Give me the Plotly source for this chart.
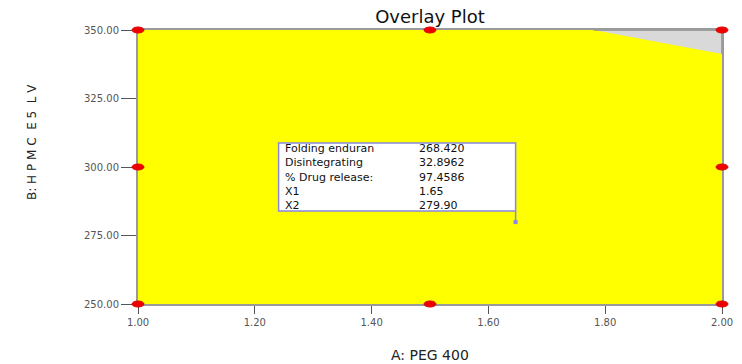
import plotly.graph_objects as go

# Design space axes
x_ticks = [1.00, 1.20, 1.40, 1.60, 1.80, 2.00]
y_ticks = [250.00, 275.00, 300.00, 325.00, 350.00]

# Design points (red markers)
design_a = [1.0, 1.0, 1.0, 1.5, 1.5, 2.0, 2.0, 2.0]
design_b = [250, 300, 350, 250, 350, 250, 300, 350]

# Region failing the criteria (grey, upper right corner)
fail_a = [1.78, 2.00, 2.00]
fail_b = [350.0, 350.0, 341.2]

# Flagged optimum
flag_a = 1.65
flag_b = 279.90
flag_labels = ["Folding enduran", "Disintegrating", "% Drug release:", "X1", "X2"]
flag_values = ["268.420", "32.8962", "97.4586", "1.65", "279.90"]

FONT = "DejaVu Sans, Arial, sans-serif"

# Plot-area geometry (px); the main axes sit PAD px inside a helper
# subplot so that markers on the border are not clipped.
W, H = 742, 364
L, R, T, B = 130, 12, 22, 52
PAD = 8
pw, ph = W - L - R, H - T - B
xa, xb = x_ticks[0], x_ticks[-1]
ya, yb = y_ticks[0], y_ticks[-1]
xpad = (xb - xa) * PAD / (pw - 2 * PAD)
ypad = (yb - ya) * PAD / (ph - 2 * PAD)

fig = go.Figure()

# Yellow feasible region covering the whole design space
fig.add_trace(go.Scatter(
    x=[xa, xb, xb, xa], y=[ya, ya, yb, yb],
    fill="toself", fillcolor="#ffff00", mode="lines",
    line=dict(width=0), hoverinfo="skip", showlegend=False))

fig.add_trace(go.Scatter(
    x=fail_a, y=fail_b, fill="toself", fillcolor="#d9d9d9", mode="lines",
    line=dict(color="#6a6a6a", width=1), hoverinfo="skip", showlegend=False))

shapes = []
# Red ellipse markers at design points
for a, b in zip(design_a, design_b):
    shapes.append(dict(type="circle", xref="x2", yref="y2", xsizemode="pixel",
                       ysizemode="pixel", xanchor=a, yanchor=b,
                       x0=-6, x1=6, y0=-3, y1=3,
                       fillcolor="#ee0000", line=dict(color="#dd0000", width=1),
                       layer="above"))

# Flag box and leader line
shapes.append(dict(type="rect", xref="x", yref="y", xsizemode="pixel",
                   ysizemode="pixel", xanchor=flag_a, yanchor=flag_b,
                   x0=-239, x1=-2, y0=11, y1=79, fillcolor="white",
                   line=dict(color="#8888e0", width=1.5), layer="above"))
shapes.append(dict(type="line", xref="x", yref="y", xsizemode="pixel",
                   ysizemode="pixel", xanchor=flag_a, yanchor=flag_b,
                   x0=-2, x1=-2, y0=0, y1=11,
                   line=dict(color="#8888e0", width=1.5), layer="above"))
shapes.append(dict(type="rect", xref="x", yref="y", xsizemode="pixel",
                   ysizemode="pixel", xanchor=flag_a, yanchor=flag_b,
                   x0=-4, x1=0, y0=-2, y1=2, fillcolor="#8888e0",
                   line=dict(width=0), layer="above"))

# Flag text: one block for the labels, one for the values
boxfont = dict(family=FONT, size=11, color="#111")
annotations = [
    dict(x=flag_a, y=flag_b, xref="x", yref="y",
         text="<br>".join(flag_labels), align="left",
         showarrow=False, xanchor="left", yanchor="middle",
         xshift=-235, yshift=45, font=boxfont),
    dict(x=flag_a, y=flag_b, xref="x", yref="y",
         text="<br>".join(flag_values), align="left",
         showarrow=False, xanchor="left", yanchor="middle",
         xshift=-101, yshift=45, font=boxfont),
]

# Axis titles
annotations.append(dict(text="B: H P M C  E 5  L V", textangle=-90,
                        xref="paper", yref="paper",
                        x=(23 - L) / pw, y=(H - B - 142) / ph,
                        showarrow=False,
                        font=dict(family=FONT, size=12, color="#222")))
annotations.append(dict(text="A: PEG 400", xref="paper", yref="paper",
                        x=(430 - L) / pw, y=(H - B - 355) / ph,
                        showarrow=False, yanchor="middle",
                        font=dict(family=FONT, size=14, color="#222")))

tickfont = dict(family=FONT, size=10, color="#555")
fig.update_layout(
    width=W, height=H,
    margin=dict(l=L, r=R, t=T, b=B, autoexpand=False),
    paper_bgcolor="white", plot_bgcolor="rgba(0,0,0,0)",
    title=dict(text="Overlay Plot", x=(430 - L) / pw, xref="paper",
               xanchor="center", y=1 - 17 / H, yanchor="middle",
               font=dict(family=FONT, size=18, color="#111")),
    shapes=shapes, annotations=annotations,
    xaxis=dict(domain=[PAD / pw, 1 - PAD / pw], range=[xa, xb],
               tickvals=x_ticks, ticktext=[f"{v:.2f}" for v in x_ticks],
               ticks="outside", ticklen=8, tickcolor="#555",
               showline=True, linecolor="#9a9a9a", linewidth=2, mirror=True,
               showgrid=False, zeroline=False, tickfont=tickfont,
               automargin=False),
    yaxis=dict(domain=[PAD / ph, 1 - PAD / ph], range=[ya, yb],
               tickvals=y_ticks, ticktext=[f"{v:.2f}" for v in y_ticks],
               ticks="outside", ticklen=15, tickcolor="#555",
               showline=True, linecolor="#9a9a9a", linewidth=2, mirror=True,
               showgrid=False, zeroline=False, tickfont=tickfont,
               automargin=False),
    # helper axes spanning the padded area, same data scale as x / y
    xaxis2=dict(domain=[0, 1], range=[xa - xpad, xb + xpad], anchor="y2",
                showticklabels=False, ticks="", showline=False,
                showgrid=False, zeroline=False, automargin=False),
    yaxis2=dict(domain=[0, 1], range=[ya - ypad, yb + ypad], anchor="x2",
                showticklabels=False, ticks="", showline=False,
                showgrid=False, zeroline=False, automargin=False),
)

fig.write_html("out.html")
